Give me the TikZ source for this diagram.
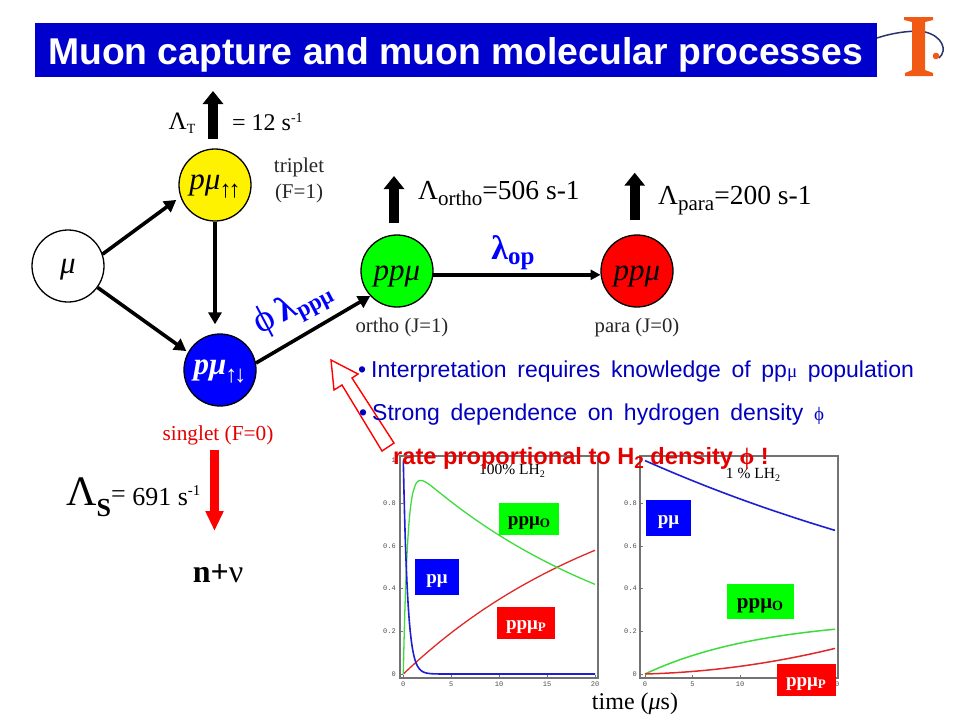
\documentclass[tikz,border=0pt]{standalone}
\usepackage{fontspec}
\usetikzlibrary{arrows.meta}
\setmainfont{Liberation Serif}
\setsansfont{Liberation Sans}
\setmonofont{Liberation Mono}
\definecolor{titleblue}{RGB}{0,0,204}
\definecolor{txtblue}{RGB}{0,0,190}
\definecolor{vivblue}{RGB}{0,0,255}
\definecolor{logoor}{RGB}{240,90,20}
\definecolor{logobl}{RGB}{40,50,110}
\definecolor{curveg}{RGB}{60,220,60}
\definecolor{curver}{RGB}{225,40,40}
\definecolor{curveb}{RGB}{30,30,210}
\newcommand{\fs}[1]{\fontsize{#1}{#1}\selectfont}
\newcommand{\lowtxt}[2]{\raisebox{-#1pt}[\dimexpr\height+#1pt\relax][\dimexpr\depth-#1pt\relax]{#2}}
\newcommand{\arrs}[2]{\raisebox{-8pt}{\normalfont\sffamily\fs{24}\kern-1pt#1\kern-3pt#2}}
\tikzset{
 x=1pt,y=-1pt,
 state/.style={circle,draw=black,line width=1.3pt,minimum size=72pt,inner sep=0pt,font=\fs{31}\itshape},
 flow/.style={line width=3.6pt,draw=black,-{Triangle[length=12pt,width=13pt]}},
 block/.style={line width=10pt,-{Triangle[length=13pt,width=20pt]}},
 lab/.style={inner sep=0pt,anchor=center},
 legendbox/.style={inner sep=0pt,font=\fs{19}\bfseries},
 frameline/.style={draw=black!55,line width=1.2pt},
 tick/.style={draw=black!55,line width=.6pt},
 ticklab/.style={inner sep=0pt,font=\fs{7}\ttfamily,text=black!70},
 curve/.style={line width=1.3pt,smooth},
 bullet/.style={inner sep=0pt,anchor=west,text=txtblue,font=\fs{23}\sffamily},
}
\begin{document}
\begin{tikzpicture}
\useasboundingbox (0,0) rectangle (960,720);
% title
\node[fill=titleblue,minimum width=842pt,minimum height=54pt,inner sep=0pt,anchor=north west] (title) at (35,23) {};
\node[lab,text=white,font=\fs{37.3}\sffamily\bfseries] (titletext) at (455.5,54.5) {Muon capture and muon molecular processes};
% logo
\draw[logobl,line width=1.5pt] (877,38) .. controls (895,32) and (915,30) .. (925,32) .. controls (942,36) and (948,50) .. (939,58);
\fill[logoor] (904,17) -- (933,17) -- (933,20) -- (925,22) -- (925,70) -- (933,73) -- (933,76) -- (905,76) -- (905,73) -- (912,70) -- (912,22) -- (904,20) -- cycle;
\fill[logoor] (936,56) circle (3.3);
% states
\node[state,fill=white] (mu) at (68,266) {\lowtxt{2}{\char"03BC}};
\node[state,fill=yellow] (yel) at (215,185) {\lowtxt{1}{p\char"03BC\arrs{\char"2191}{\char"2191}}};
\node[state,fill=vivblue,text=white,font=\fs{31}\itshape\bfseries] (blu) at (220,370) {\lowtxt{1}{p\char"03BC\arrs{\char"2191}{\char"2193}}};
\node[state,fill=green] (gre) at (397,271) {\lowtxt{3}{pp\char"03BC}};
\node[state,fill=red] (redn) at (637,271) {\lowtxt{3}{pp\char"03BC}};
% connectors
\draw[flow,shorten >=5pt] (mu.19) -- (yel.199);
\draw[flow,shorten >=2pt] (mu.-36) -- (blu.151);
\draw[flow,shorten >=9pt] (yel.south) -- (yel.south |- blu.north);
\draw[flow] (blu.11) -- (gre.223);
\draw[line width=3.6pt,-{Triangle[length=10pt,width=10pt]}] (gre.-6) -- (redn.186);
% block arrows
\coordinate (ta) at (213,139); \coordinate (tb) at (213,91);
\draw[block,black] (ta) -- (tb);
\coordinate (oa) at (394,223); \coordinate (ob) at (394,176);
\draw[block,black] (oa) -- (ob);
\coordinate (pa) at (634.7,220); \coordinate (pb) at (634.7,172.7);
\draw[block,black] (pa) -- (pb);
\coordinate (sa) at (214.5,450); \coordinate (sb) at (214.5,531);
\draw[line width=8.5pt,red,-{Triangle[length=20pt,width=17pt]}] (sa) -- (sb);
% open arrow
\draw[red,line width=1.4pt,line join=miter] (331,360) -- (358,374) -- (352,378) -- (394,443) -- (382,451) -- (342,385) -- (334,390) -- cycle;
% labels
\node[lab,font=\fs{25}] (lt) at (182,123) {\char"039B\raisebox{-4pt}{\fs{14}T}};
\node[lab,anchor=west,font=\fs{24}] (lt2) at (232,122) {= 12 s\raisebox{8pt}{\fs{14}-1}};
\node[lab,align=center,font=\fontsize{21}{26}\selectfont,text=black!85] (trip) at (299,180) {triplet\\(F=1)};
\node[lab,anchor=west,font=\fs{27.5}] (lo) at (418,193) {\char"039B\raisebox{-6pt}{\fs{21}ortho}=506 s-1};
\node[lab,anchor=west,font=\fs{27.5}] (lp) at (658,201) {\char"039B\raisebox{-6pt}{\fs{21}para}=200 s-1};
\node[lab,text=vivblue,font=\fs{34}\bfseries] (lop) at (513,253) {\char"03BB\raisebox{-5pt}{\fs{25}op}};
\node[lab,text=vivblue,rotate=28,font=\fs{35}\bfseries] (lpp) at (293,308) {{\fs{38}\mdseries\char"03D5}\,\char"03BB\raisebox{-5pt}{\fs{23}pp\char"03BC}};
\node[lab,font=\fs{20.7},text=black!85] (oj) at (402,327.5) {ortho (J=1)};
\node[lab,font=\fs{20.7},text=black!85] (pj) at (637,327.5) {para (J=0)};
\node[lab,font=\fs{21.3},text=red!90!black] (sing) at (218,435) {singlet (F=0)};
\node[inner sep=0pt,anchor=base west,font=\fs{26}] (ls) at (66,505) {{\fs{42}\char"039B}\raisebox{-11pt}{\fs{26}\bfseries S}\raisebox{3pt}{=} 691 s\raisebox{10pt}{\fs{15}-1}};
\node[lab,font=\fs{32}\bfseries] (nnu) at (218,574) {n+{\mdseries\char"03BD}};
% bullets
\node[bullet] (b1) at (358,372) {\spaceskip=10.6pt\relax •\hspace{5pt}Interpretation requires knowledge of pp{\rmfamily\fs{19}\char"03BC} population};
\node[bullet] (b2) at (359,415) {\spaceskip=10.6pt\relax •\hspace{5pt}Strong dependence on hydrogen density {\rmfamily\fs{19}\char"03D5}};
% plots
\fill[white] (400,456) rectangle (598,678);
\fill[white] (640,456) rectangle (838,678);
\foreach \xo/\xs in {403.3/9.585,645/9.5}{
  \foreach \t in {0,5,10,15,20}{
    \draw[tick] ({\xo+\xs*\t},678) -- ++(0,-3);
    \node[ticklab] at ({\xo+\xs*\t},684) {\t};
  }
}
\foreach \v/\l in {0/0,.2/0.2,.4/0.4,.6/0.6,.8/0.8}{
  \draw[tick] (400,{674-213.4*\v}) -- ++(3,0);
  \draw[tick] (640,{674-213.4*\v}) -- ++(3,0);
  \node[ticklab,anchor=east] at (396,{674-213.4*\v}) {\l};
  \node[ticklab,anchor=east] at (637,{674-213.4*\v}) {\l};
}
\node[ticklab,anchor=east] at (396,460.6) {1};
\draw[frameline] (400,456) rectangle (598,678);
\draw[frameline] (640,456) rectangle (838,678);
% left curves
\draw[curve,curver] plot[domain=0:20,samples=60] ({403.3+9.585*\x},{674-213.4*(1.02*(1-exp(-\x/23.8)))});
\draw[curve,curveg] plot[domain=0:1,samples=30] ({403.3+9.585*\x},{674-213.4*(1-exp(-\x/.45)-1.02*(1-exp(-\x/23.8)))});
\draw[curve,curveg] plot[domain=1:20,samples=60] ({403.3+9.585*\x},{674-213.4*(1-exp(-\x/.45)-1.02*(1-exp(-\x/23.8)))});
\draw[curve,curveb,line width=1.6pt] plot[domain=0:4,samples=50] ({403.3+9.585*\x},{674-213.4*exp(-\x/.45)}) -- (595,674);
% right curves
\draw[curve,curveb,line width=1.6pt] plot[domain=0:20,samples=30] ({645+9.5*\x},{674-213.4*exp(-\x/50.5)});
\draw[curve,curveg,line width=1.5pt] plot[domain=0:20,samples=30] ({645+9.5*\x},{674-213.4*(.263*(1-exp(-\x/12.5)))});
\draw[curve,curver,line width=1.5pt] plot[domain=0:20,samples=30] ({645+9.5*\x},{674-213.4*.12*(.8*\x*\x/400+.2*\x/20)});
% plot labels
\node[lab,font=\fs{15.5}] (h1) at (512,471) {100\% LH\raisebox{-3pt}{\fs{10}2}};
\node[lab,font=\fs{15.5}] (h2) at (753,475) {1 \% LH\raisebox{-3pt}{\fs{10}2}};
\node[legendbox,fill=green,minimum width=60pt,minimum height=32pt] (g1) at (529,519) {\lowtxt{2}{pp\char"03BC\raisebox{-2pt}{\fs{13}O}}};
\node[legendbox,fill=vivblue,text=white,minimum width=44pt,minimum height=36pt] (b1l) at (437,577) {\lowtxt{2}{p\char"03BC}};
\node[legendbox,fill=red,text=white,minimum width=58pt,minimum height=32pt] (r1) at (526,623) {\lowtxt{2}{pp\char"03BC\raisebox{-2pt}{\fs{13}P}}};
\node[legendbox,fill=vivblue,text=white,minimum width=45pt,minimum height=36pt] (b2l) at (668.5,518) {\lowtxt{2}{p\char"03BC}};
\node[legendbox,fill=green,minimum width=67pt,minimum height=35pt,font=\fs{21}\bfseries] (g2) at (760,601.5) {\lowtxt{2}{pp\char"03BC\raisebox{-2pt}{\fs{14}O}}};
\node[legendbox,fill=red,text=white,minimum width=59pt,minimum height=32pt] (r2) at (806,680) {\lowtxt{2}{pp\char"03BC\raisebox{-2pt}{\fs{13}P}}};
\node[lab,font=\fs{24}] (time) at (635,704) {time ({\itshape\char"03BC}s)};
% rate line
\node[lab,anchor=west,text=red!90!black,font=\fs{23.6}\sffamily\bfseries] (rate) at (393,458) {rate proportional to H\raisebox{-4pt}{\fs{17}2} density {\rmfamily\char"03D5} !};
\end{tikzpicture}
\end{document}
